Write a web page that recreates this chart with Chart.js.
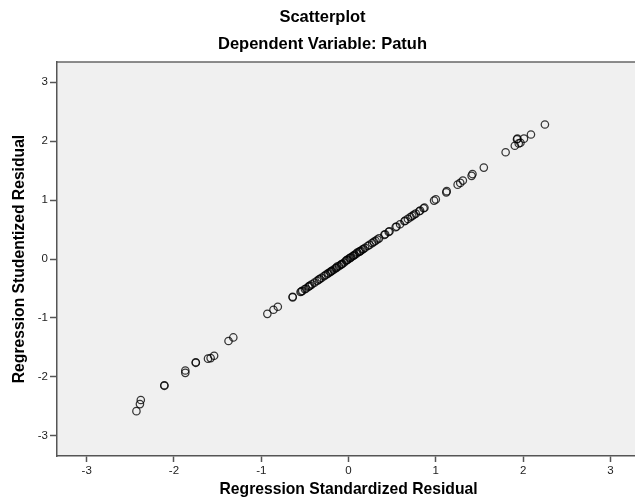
<!DOCTYPE html>
<html>
<head>
<meta charset="utf-8">
<script src="https://cdn.jsdelivr.net/npm/chart.js@4/dist/chart.umd.min.js"></script>
<style>
  html, body { margin: 0; padding: 0; background: #ffffff; overflow: hidden; }
  #wrap { width: 645px; height: 504px; }
</style>
</head>
<body>
<div id="wrap"><canvas id="c" width="645" height="504"></canvas></div>
<script>
// Regression Standardized Residual (x)
const stdResid = [
  -2.43, -2.39, -2.38, -2.11, -2.11, -1.87, -1.87, -1.75, -1.75, -1.61, -1.58, -1.54,
  -1.375, -1.32, -0.93, -0.86, -0.81, -0.64, -0.64,
  -0.55, -0.54, -0.53, -0.50, -0.485, -0.46, -0.45, -0.44, -0.42, -0.39, -0.36, -0.34, -0.33, -0.31, -0.28,
  -0.26, -0.24, -0.23, -0.21, -0.20, -0.19, -0.17, -0.15, -0.14, -0.13, -0.11, -0.09, -0.08, -0.07, -0.05, -0.03,
  -0.02, -0.01, 0.01, 0.02, 0.03, 0.05, 0.06, 0.07, 0.09, 0.10, 0.12, 0.13, 0.14, 0.16, 0.17, 0.19, 0.22, 0.24,
  0.27, 0.29, 0.31, 0.33, 0.35, 0.41, 0.42, 0.46, 0.47, 0.54, 0.55, 0.59, 0.64, 0.65,
  0.68, 0.71, 0.73, 0.75, 0.77, 0.81, 0.82, 0.86, 0.87,
  0.98, 1.00, 1.12, 1.125, 1.25, 1.28, 1.31, 1.41, 1.42, 1.55, 1.80, 1.905, 1.93, 1.935,
  1.95, 1.97, 2.01, 2.09, 2.25
];
// Regression Studentized Residual (y)
const studResid = [
  -2.58, -2.46, -2.39, -2.14, -2.15, -1.89, -1.93, -1.75, -1.76, -1.69, -1.68, -1.64,
  -1.39, -1.33, -0.93, -0.86, -0.81, -0.65, -0.64,
  -0.56, -0.55, -0.54, -0.51, -0.50, -0.47, -0.46, -0.45, -0.43, -0.40, -0.37, -0.35, -0.34, -0.32, -0.29,
  -0.27, -0.25, -0.24, -0.22, -0.21, -0.20, -0.18, -0.16, -0.15, -0.13, -0.12, -0.10, -0.09, -0.08, -0.06, -0.03,
  -0.02, -0.01, 0.01, 0.02, 0.03, 0.05, 0.06, 0.07, 0.09, 0.11, 0.12, 0.13, 0.14, 0.16, 0.17, 0.19, 0.22, 0.24,
  0.27, 0.29, 0.31, 0.33, 0.35, 0.41, 0.42, 0.46, 0.47, 0.54, 0.55, 0.59, 0.64, 0.65,
  0.68, 0.71, 0.73, 0.75, 0.77, 0.81, 0.82, 0.86, 0.87,
  0.99, 1.01, 1.13, 1.15, 1.26, 1.29, 1.33, 1.41, 1.44, 1.55, 1.81, 1.92, 2.03, 2.04,
  1.96, 1.97, 2.04, 2.11, 2.28
];
const xTicks = [-3, -2, -1, 0, 1, 2, 3];
const yTicks = [-3, -2, -1, 0, 1, 2, 3];
const axisMin = -3.34;
const axisMax = 3.34;

const FONT = "'Liberation Sans', Arial, sans-serif";

const plotBg = {
  id: 'plotBg',
  beforeDraw(chart) {
    const { ctx, chartArea: a } = chart;
    ctx.save();
    ctx.fillStyle = '#f0f0f0';
    ctx.fillRect(a.left, a.top, a.right - a.left, a.bottom - a.top);
    ctx.strokeStyle = '#666666';
    ctx.lineWidth = 1.5;
    ctx.beginPath();
    ctx.moveTo(a.left, a.top);
    ctx.lineTo(a.right, a.top);
    ctx.stroke();
    ctx.restore();
  }
};

new Chart(document.getElementById('c'), {
  type: 'scatter',
  data: {
    datasets: [{
      data: stdResid.map((x, i) => ({ x: x, y: studResid[i] })),
      pointRadius: 3.7,
      pointHoverRadius: 3.7,
      pointBorderWidth: 1.25,
      pointBorderColor: 'rgba(0,0,0,0.78)',
      pointBackgroundColor: 'rgba(0,0,0,0)'
    }]
  },
  options: {
    responsive: false,
    animation: false,
    devicePixelRatio: 1,
    layout: { padding: 0 },
    plugins: {
      legend: { display: false },
      tooltip: { enabled: false },
      title: {
        display: true, text: 'Scatterplot', color: '#000',
        font: { family: FONT, size: 16.5, weight: 'bold' },
        padding: { top: 8, bottom: 3 }
      },
      subtitle: {
        display: true, text: 'Dependent Variable: Patuh', color: '#000',
        font: { family: FONT, size: 16.5, weight: 'bold' },
        padding: { top: 3.3, bottom: 8.1 }
      }
    },
    scales: {
      x: {
        type: 'linear', min: axisMin, max: axisMax,
        afterBuildTicks: s => { s.ticks = xTicks.map(v => ({ value: v })); },
        afterFit: s => { s.height = 48; s.paddingLeft = 0; s.paddingRight = 0; },
        ticks: { font: { family: FONT, size: 11.5 }, color: '#222', padding: 1.5, maxRotation: 0, autoSkip: false },
        grid: { display: true, drawOnChartArea: false, drawTicks: true, tickLength: 6, tickWidth: 1.5, tickColor: '#555' },
        border: { display: true, color: '#555', width: 1.5 },
        title: {
          display: true, text: 'Regression Standardized Residual', color: '#000',
          font: { family: FONT, size: 15.7, weight: 'bold' },
          padding: { top: 0, bottom: 4.6 }
        }
      },
      y: {
        type: 'linear', min: axisMin, max: axisMax,
        afterBuildTicks: s => { s.ticks = yTicks.map(v => ({ value: v })); },
        afterFit: s => { s.width = 57; },
        ticks: { font: { family: FONT, size: 11.5 }, color: '#222', padding: 2, autoSkip: false },
        grid: { display: true, drawOnChartArea: false, drawTicks: true, tickLength: 7, tickWidth: 1.5, tickColor: '#555' },
        border: { display: true, color: '#555', width: 1.5 },
        title: {
          display: true, text: 'Regression Studentized Residual', color: '#000',
          font: { family: FONT, size: 15.7, weight: 'bold' },
          padding: { top: 10.6, bottom: 0 }
        }
      }
    }
  },
  plugins: [plotBg]
});
</script>
</body>
</html>
